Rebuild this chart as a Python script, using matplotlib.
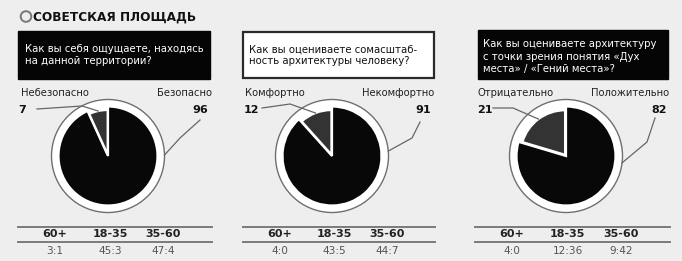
import matplotlib
matplotlib.use("Agg")
import matplotlib.pyplot as plt
from matplotlib.patches import Rectangle, Circle
import math

# ---------------- data ----------------
title = "СОВЕТСКАЯ ПЛОЩАДЬ"
questions = [
    "Как вы себя ощущаете, находясь\nна данной территории?",
    "Как вы оцениваете сомасштаб-\nность архитектуры человеку?",
    "Как вы оцениваете архитектуру\nс точки зрения понятия «Дух\nместа» / «Гений места»?",
]
left_labels = ["Небезопасно", "Комфортно", "Отрицательно"]
right_labels = ["Безопасно", "Некомфортно", "Положительно"]
left_values = [7, 12, 21]
right_values = [96, 91, 82]
age_groups = ["60+", "18-35", "35-60"]
age_ratios = [["3:1", "45:3", "47:4"],
              ["4:0", "43:5", "44:7"],
              ["4:0", "12:36", "9:42"]]

# ---------------- layout ----------------
W, H = 682, 261
BG = "#eeeeee"
fig = plt.figure(figsize=(W / 100, H / 100), dpi=100, facecolor=BG)
ax = fig.add_axes([0, 0, 1, 1])
ax.set_facecolor(BG)

centers = [(108, 156), (332, 156), (566, 156)]
R = 49.5
RING = 56.5
boxes = [(18, 31, 192, 48, "dark"), (243, 32, 191, 46, "light"), (478, 30, 190, 49, "dark")]
text_pos = [(25, 55.5), (249, 55.5), (483, 56.5)]
lab_left_x = [21, 245, 477]
lab_right_x = [212, 434, 669]
num_left_x = [18, 244, 477]
num_right_x = [208, 431, 667]
table_x = [(18, 212), (243, 435), (475, 670)]
col_frac = [0.19, 0.475, 0.75]
leader_left = [[(37, 109), (82, 106)], [(262, 108), (290, 104)], [(493, 108), (513, 108)]]
leader_right = [[(200, 120), (180, 138)], [(420, 122), (412, 138)], [(655, 118), (647, 142)]]
ring_angle = [1, 5, -7]

for i in range(3):
    cx, cy = centers[i]
    # outer ring
    ax.add_patch(Circle((cx, cy), RING, facecolor="white", edgecolor="#6f6f6f", lw=1.0, zorder=1))
    wedges, _ = ax.pie([right_values[i], left_values[i]], startangle=-90, counterclock=True,
                       center=(cx, cy), radius=R, explode=[0, 1.5],
                       colors=["#080808", "#333333"],
                       wedgeprops=dict(edgecolor="white", linewidth=1.6))
    for w in wedges:
        w.set_zorder(2)
    wedges[1].set_radius(R * 0.9)
    # question box
    bx, by, bw, bh, kind = boxes[i]
    if kind == "dark":
        ax.add_patch(Rectangle((bx, by), bw, bh, facecolor="#050505", edgecolor="#050505", lw=1, zorder=3))
        tc = "white"
    else:
        ax.add_patch(Rectangle((bx, by), bw, bh, facecolor="white", edgecolor="#2a2a2a", lw=1.6, zorder=3))
        tc = "#111111"
    tx, ty = text_pos[i]
    ax.text(tx, ty, questions[i], color=tc, fontsize=7.3, va="center", ha="left",
            linespacing=1.25, zorder=4)
    # labels
    ax.text(lab_left_x[i], 93, left_labels[i], fontsize=7.2, color="#222222", va="center", ha="left")
    ax.text(lab_right_x[i], 93, right_labels[i], fontsize=7.2, color="#222222", va="center", ha="right")
    ax.text(num_left_x[i], 110, str(left_values[i]), fontsize=8, fontweight="bold", color="#111111",
            va="center", ha="left")
    ax.text(num_right_x[i], 110, str(right_values[i]), fontsize=8, fontweight="bold", color="#111111",
            va="center", ha="right")
    # leader lines: end on the small slice and on the ring
    w1 = wedges[1]
    mid_small = math.radians((w1.theta1 + w1.theta2) / 2)
    end_small = (cx + 0.93 * R * math.cos(mid_small), cy + 0.93 * R * math.sin(mid_small))
    pts = leader_left[i] + [end_small]
    ax.plot([p[0] for p in pts], [p[1] for p in pts], color="#666666", lw=0.9, zorder=5)
    ang = math.radians(ring_angle[i])
    end_ring = (cx + RING * math.cos(ang), cy - RING * math.sin(ang))
    pts = leader_right[i] + [end_ring]
    ax.plot([p[0] for p in pts], [p[1] for p in pts], color="#666666", lw=0.9, zorder=5)
    # table
    x0, x1 = table_x[i]
    ax.plot([x0, x1], [227, 227], color="#7a7a7a", lw=1.4)
    ax.plot([x0, x1], [242, 242], color="#7a7a7a", lw=1.4)
    for j in range(3):
        xc = x0 + col_frac[j] * (x1 - x0)
        ax.text(xc, 234, age_groups[j], fontsize=8, fontweight="bold", color="#222222",
                ha="center", va="center")
        ax.text(xc, 251, age_ratios[i][j], fontsize=7.6, color="#555555", ha="center", va="center")

# title
ax.add_patch(Circle((26, 16.5), 5.3, facecolor="none", edgecolor="#777777", lw=1.4))
ax.text(33, 16.8, title, fontsize=8.7, fontweight="bold", color="#111111", va="center", ha="left")

ax.set_xlim(0, W)
ax.set_ylim(H, 0)
ax.set_aspect("auto")
ax.axis("off")
fig.savefig("out.png", dpi=100, facecolor=BG)
